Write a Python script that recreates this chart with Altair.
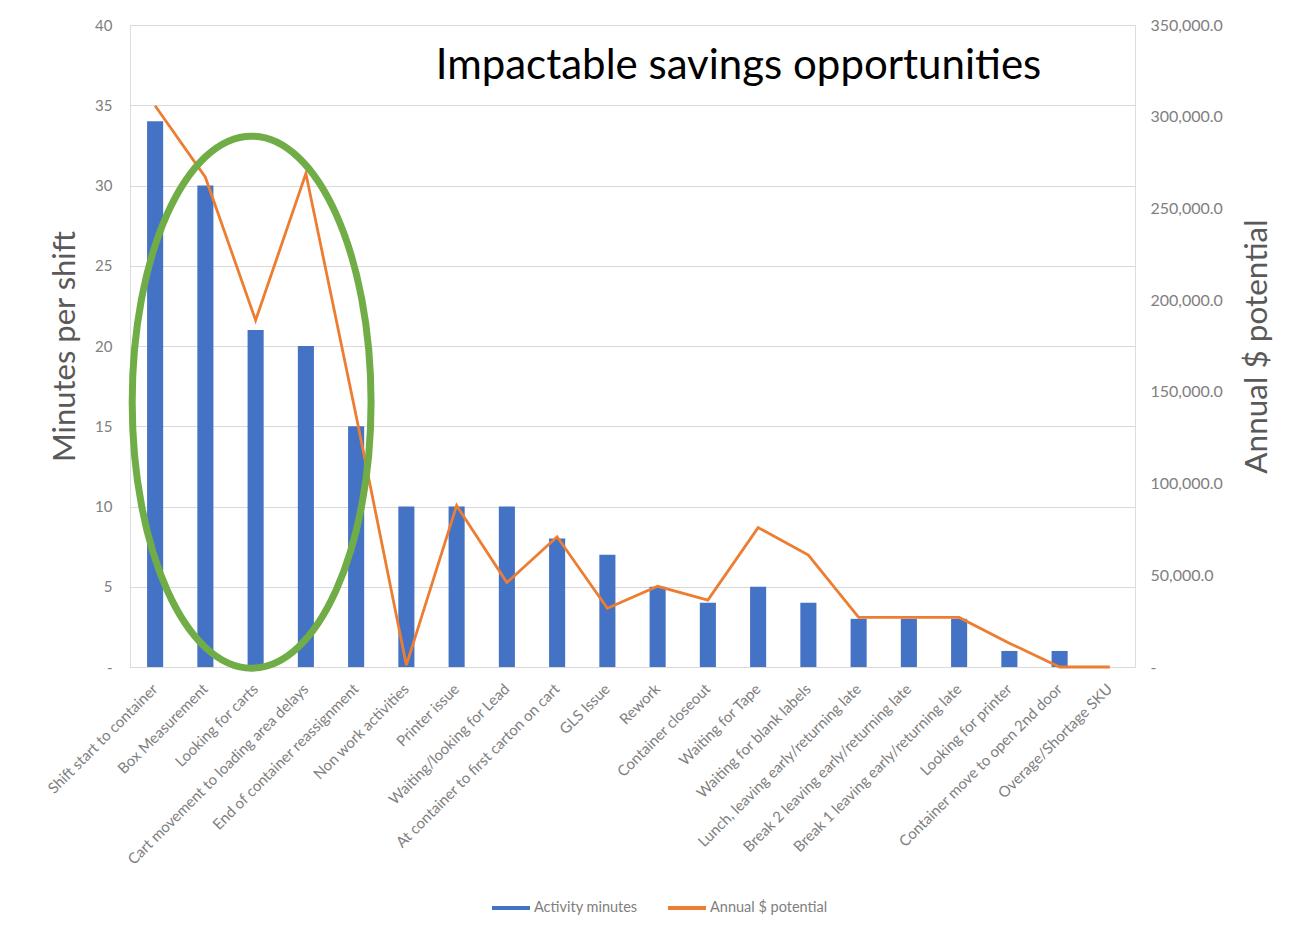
import altair as alt
import pandas as pd

categories = [
    "Shift start to container", "Box Measurement", "Looking for carts",
    "Cart movement to loading area delays", "End of container reassignment",
    "Non work activities", "Printer issue", "Waiting/looking for Lead",
    "At container to first carton on cart", "GLS Issue", "Rework",
    "Container closeout", "Waiting for Tape", "Waiting for blank labels",
    "Lunch, leaving early/returning late", "Break 2 leaving early/returning late",
    "Break 1 leaving early/returning late", "Looking for printer",
    "Container move to open 2nd door", "Overage/Shortage SKU",
]
activity_minutes = [34, 30, 21, 20, 15, 10, 10, 10, 8, 7, 5, 4, 5, 4, 3, 3, 3, 1, 1, 0]
annual_potential = [306000, 267000, 189000, 269000, 137000, 1000, 88000, 46000, 71000,
                    32000, 44000, 36500, 76000, 61000, 27000, 27000, 27000, 13000, 0, 0]
series_names = ["Activity minutes", "Annual $ potential"]
series_colors = ["#4472C4", "#ED7D31"]

# annotation: highlighted group (green ellipse) centred on this category
highlight_category = ["Looking for carts"]
highlight_minutes = [16.5]

df = pd.DataFrame({
    "category": categories,
    "minutes": activity_minutes,
    "dollars": annual_potential,
})
hl = pd.DataFrame({"category": highlight_category, "minutes": highlight_minutes})

FONT = "Lato"
LABEL_COLOR = "#808080"
GRID = "#D9D9D9"

x = alt.X(
    "category:N", sort=categories, title=None,
    scale=alt.Scale(paddingInner=0.68, paddingOuter=0.34),
    axis=alt.Axis(labelAngle=-45, labelAlign="right", labelBaseline="middle",
                  labelPadding=19, labelFontSize=15, labelColor=LABEL_COLOR,
                  labelFont=FONT, ticks=False, domainColor=GRID, grid=False,
                  labelLimit=500),
)

color_scale = alt.Scale(domain=series_names, range=series_colors)

bars = alt.Chart(df).mark_bar(color=series_colors[0]).encode(
    x=x,
    y=alt.Y("minutes:Q", title="Minutes per shift",
            scale=alt.Scale(domain=[0, 40], nice=False),
            axis=alt.Axis(values=[0, 5, 10, 15, 20, 25, 30, 35, 40], orient="left",
                          labelExpr="datum.value == 0 ? '-' : datum.label",
                          labelFontSize=15, labelColor=LABEL_COLOR, labelFont=FONT,
                          labelPadding=18, ticks=False, domain=False,
                          gridColor=GRID, titleFontSize=31, titleColor="#595959",
                          titleFont=FONT, titleFontWeight="normal", titlePadding=13)),
)

line = alt.Chart(df).transform_calculate(series="'Annual $ potential'").mark_line(strokeWidth=2.8).encode(
    x=x,
    y=alt.Y("dollars:Q", title="Annual $ potential",
            scale=alt.Scale(domain=[0, 350000], nice=False),
            axis=alt.Axis(values=[0, 50000, 100000, 150000, 200000, 250000, 300000, 350000],
                          orient="right",
                          labelExpr="datum.value == 0 ? '-' : format(datum.value, ',.1f')",
                          labelFontSize=16, labelColor=LABEL_COLOR, labelFont=FONT,
                          labelPadding=15, ticks=False, domain=False, grid=False,
                          titleFontSize=31.5, titleColor="#595959", titleFont=FONT,
                          titleFontWeight="normal", titlePadding=19,
                          titleAngle=270, titleBaseline="top")),
    color=alt.Color(
        "series:N", scale=color_scale,
        legend=alt.Legend(
            title=None, orient="none", direction="horizontal",
            legendX=360, legendY=862,
            symbolType="stroke", symbolStrokeWidth=4, symbolSize=1444,
            labelFontSize=14.5, labelColor=LABEL_COLOR, labelFont=FONT,
            columnPadding=22, labelOffset=2, values=series_names,
        ),
    ),
)

ellipse_path = "M -0.449 0 A 0.449 1 0 1 0 0.449 0 A 0.449 1 0 1 0 -0.449 0 Z"
ellipse = alt.Chart(hl).mark_point(
    shape=ellipse_path, size=283000, filled=False, stroke="#70AD47",
    strokeWidth=7, opacity=1, xOffset=-4,
).encode(
    x=alt.X("category:N", sort=categories),
    y=alt.Y("minutes:Q", scale=alt.Scale(domain=[0, 40], nice=False), axis=None),
)

chart = alt.layer(bars, line, ellipse).resolve_scale(y="independent").properties(
    width=1005, height=642,
    title=alt.TitleParams("Impactable savings opportunities", font=FONT, fontSize=42,
                          fontWeight="normal", color="#000000", anchor="middle",
                          dx=106, dy=75),
    autosize=alt.AutoSizeParams(type="none"),
    padding={"left": 122, "top": 17, "right": 160, "bottom": 250},
).configure_view(stroke=None).configure(background="white")

chart.save("out.html", embed_options={"renderer": "svg", "actions": False})
